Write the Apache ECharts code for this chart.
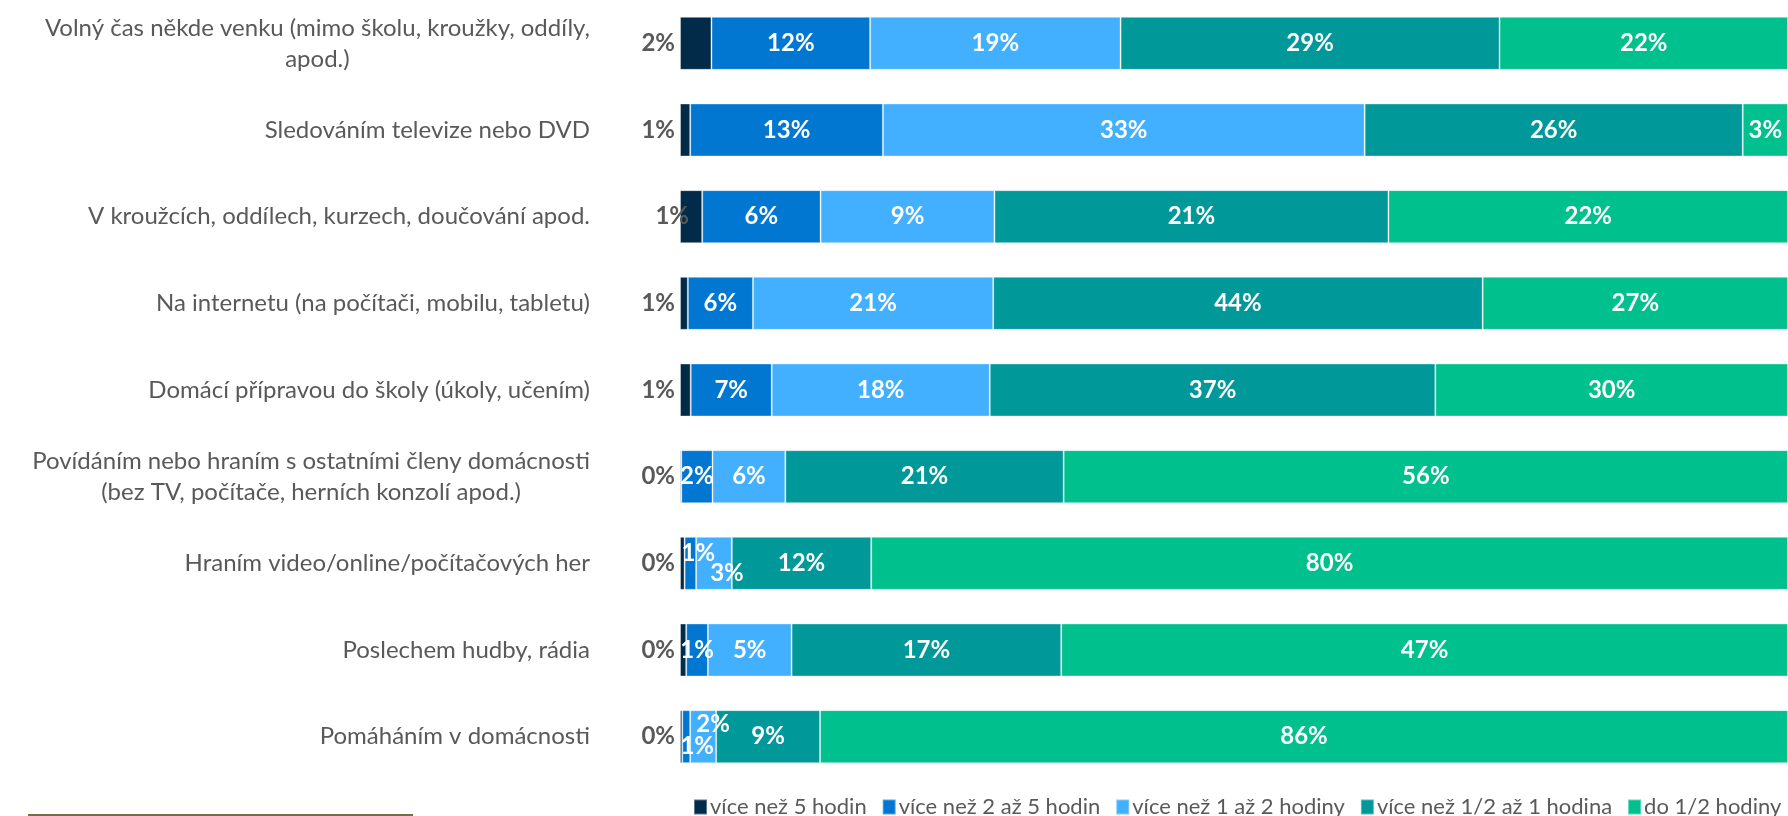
<!DOCTYPE html>
<html>
<head>
<meta charset="utf-8">
<script src="https://cdn.jsdelivr.net/npm/echarts@6/dist/echarts.min.js"></script>
<style>
  html, body { margin: 0; padding: 0; background: #fff; }
  #chart { width: 1788px; height: 816px; }
</style>
</head>
<body>
<div id="chart"></div>
<script>
// kategorie (shora dolů)
const categories = [
  'Volný čas někde venku (mimo školu, kroužky, oddíly,\napod.)',
  'Sledováním televize nebo DVD',
  'V kroužcích, oddílech, kurzech, doučování apod.',
  'Na internetu (na počítači, mobilu, tabletu)',
  'Domácí přípravou do školy (úkoly, učením)',
  'Povídáním nebo hraním s ostatními členy domácnosti\n(bez TV, počítače, herních konzolí apod.)',
  'Hraním video/online/počítačových her',
  'Poslechem hudby, rádia',
  'Pomáháním v domácnosti'
];

// názvy řad
const seriesNames = [
  'více než 5 hodin',
  'více než 2 až 5 hodin',
  'více než 1 až 2 hodiny',
  'více než 1/2 až 1 hodina',
  'do 1/2 hodiny'
];

// hodnoty v %
const over5 = [2.4, 0.7, 1.2, 0.7, 0.9, 0.1, 0.4, 0.4, 0.2];
const from2to5 = [12.1, 13.2, 6.4, 5.8, 6.8, 2.4, 1.0, 1.4, 0.7];
const from1to2 = [19.1, 33.0, 9.4, 21.4, 18.3, 5.6, 3.1, 5.4, 2.3];
const halfTo1 = [28.9, 25.9, 21.3, 43.6, 37.4, 21.4, 12.1, 17.4, 9.2];
const underHalf = [22.0, 3.1, 21.6, 27.2, 29.6, 55.7, 79.6, 46.9, 85.7];

const colors = ['#022b49', '#0277d2', '#42b0fe', '#009899', '#00c08d'];

const allValues = [over5, from2to5, from1to2, halfTo1, underHalf];

// posuny popisků u úzkých segmentů  (řada-řádek)
const labelShift = {
  '0-2': [14, 0],
  '1-6': [8, -10],
  '2-6': [13, 10],
  '1-8': [11, 10],
  '2-8': [10, -12]
};

// každý řádek se roztáhne na celou šířku (100% skládaný graf)
const rowTotals = categories.map((c, i) => allValues.reduce((s, arr) => s + arr[i], 0));

const font = 'Lato';

const series = allValues.map((arr, s) => ({
  name: seriesNames[s],
  type: 'bar',
  stack: 'total',
  barWidth: 53,
  itemStyle: {
    color: colors[s],
    borderColor: 'rgba(255,255,255,0.35)',
    borderWidth: 1
  },
  label: s === 0 ? {
    show: true,
    position: 'left',
    distance: 5,
    color: '#595959',
    fontFamily: font,
    fontWeight: 'bold',
    fontSize: 24,
    formatter: p => Math.round(arr[p.dataIndex]) + '%'
  } : {
    show: true,
    position: 'inside',
    color: '#fff',
    fontFamily: font,
    fontWeight: 'bold',
    fontSize: 24,
    formatter: p => Math.round(arr[p.dataIndex]) + '%'
  },
  data: arr.map((v, i) => {
    const item = { value: v / rowTotals[i] * 100 };
    const sh = labelShift[s + '-' + i];
    if (sh) item.label = { offset: sh };
    return item;
  })
}));

const chart = echarts.init(document.getElementById('chart'));
chart.setOption({
  animation: false,
  textStyle: { fontFamily: font },
  grid: { left: 680, right: 0, top: -4, bottom: 36 },
  legend: {
    left: 688,
    top: 791,
    width: 1200,
    itemWidth: 13,
    itemHeight: 15,
    itemGap: 15,
    icon: 'rect',
    textStyle: { color: '#595959', fontSize: 22, fontFamily: font, padding: [0, 0, 0, -2] },
    data: seriesNames
  },
  xAxis: { type: 'value', min: 0, max: 100, show: false },
  yAxis: {
    type: 'category',
    inverse: true,
    data: categories,
    axisLine: { show: false },
    axisTick: { show: false },
    axisLabel: {
      margin: 90,
      align: 'right',
      color: '#595959',
      fontFamily: font,
      fontSize: 24,
      lineHeight: 31,
      formatter: v => v.split('\n').map(l => '{c|' + l + '}').join('\n'),
      rich: { c: { align: 'center', color: '#595959', fontFamily: font, fontSize: 24, lineHeight: 31 } }
    }
  },
  graphic: [{
    type: 'line',
    shape: { x1: 28, y1: 815, x2: 413, y2: 815 },
    style: { stroke: '#6f7048', lineWidth: 2 }
  }],
  series
});
</script>
</body>
</html>
